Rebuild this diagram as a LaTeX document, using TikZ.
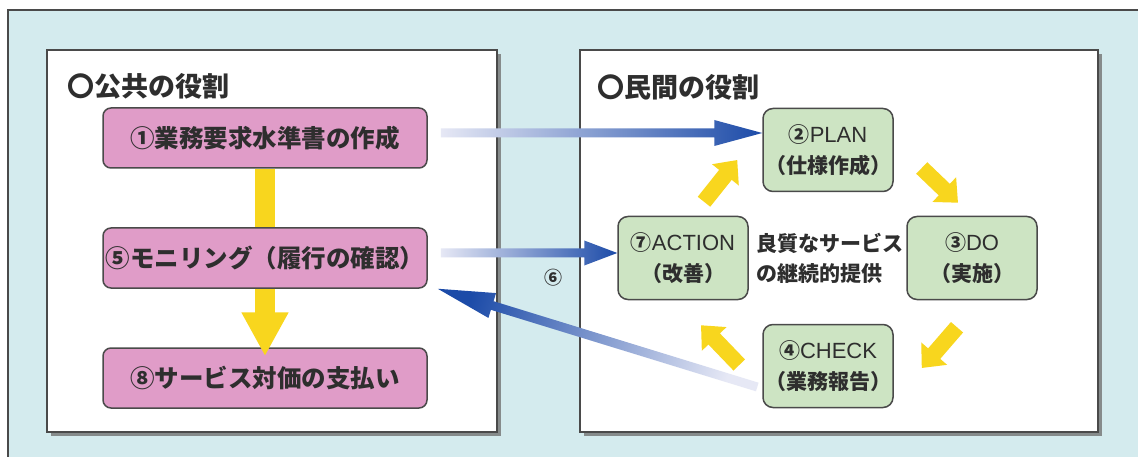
\documentclass[tikz,border=0pt]{standalone}
\usepackage{fontspec}
\setmainfont{Noto Sans CJK JP}
\newfontfamily\latinfont{Liberation Sans}
\usetikzlibrary{positioning,calc,arrows.meta,shadows}

\definecolor{panelblue}{HTML}{D4EBEE}
\definecolor{edgegray}{HTML}{4A4A4A}
\definecolor{textgray}{HTML}{2E2E2E}
\definecolor{rolepink}{HTML}{E09CC8}
\definecolor{cyclegreen}{HTML}{CDE4C3}
\definecolor{flowyellow}{HTML}{F8D61E}
\definecolor{linkblue}{HTML}{1C4BA8}
\definecolor{linkpale}{HTML}{E6E8F5}

\newcommand{\cyclename}[1]{{\latinfont\mdseries\fontsize{22}{31}\selectfont #1}}

\tikzset{
  panel/.style={draw=edgegray, line width=2pt, fill=white, inner sep=0pt,
    drop shadow={shadow xshift=4pt, shadow yshift=-4pt, fill=black!55, opacity=0.8}},
  paneltitle/.style={anchor=west, inner sep=0pt, text=textgray, font=\bfseries\fontsize{27}{30}\selectfont},
  rolebox/.style={draw=edgegray, line width=1.5pt, rounded corners=8pt, fill=rolepink,
    minimum width=324pt, minimum height=60pt, inner sep=0pt, text=textgray,
    font=\bfseries\fontsize{24.5}{28}\selectfont},
  cyclebox/.style={draw=edgegray, line width=1.5pt, rounded corners=10pt, fill=cyclegreen,
    minimum width=130pt, minimum height=83pt, inner sep=0pt, align=center, text=textgray,
    font=\bfseries\fontsize{21}{31}\selectfont},
  flowbar/.style={draw=flowyellow, line width=20pt},
  flowdown/.style={draw=flowyellow, line width=20pt, -{Triangle[length=44pt, width=44pt]}},
  cyclearrow/.style={draw=flowyellow, line width=16pt, -{Triangle[length=19pt, width=33pt]}}
}

% shaded block arrow: tail, tip, head length, head half width, shading angle
\newcommand{\linkarrow}[5]{%
  \coordinate (lahead) at ($(#2)!#3!(#1)$);
  \shade[left color=linkpale, right color=linkblue, shading angle=#5]
    ($(#1)!4.5pt!90:(#2)$) -- ($(lahead)!4.5pt!-90:(#1)$) -- ($(lahead)!#4!-90:(#1)$)
    -- (#2) -- ($(lahead)!#4!90:(#1)$) -- ($(lahead)!4.5pt!90:(#1)$)
    -- ($(#1)!4.5pt!-90:(#2)$) -- cycle;
}

\begin{document}
\begin{tikzpicture}[x=1pt, y=-1pt]
  \useasboundingbox (0,0) rectangle (1138,457);
  \fill[panelblue] (8,10) rectangle (1140,460);
  \draw[edgegray, line width=2pt] (8,460) -- (8,10) -- (1140,10);

  % public side
  \node[panel, minimum width=450pt, minimum height=382pt] (pub) at (272,241) {};
  \node[paneltitle] (pubtitle) at (67,86) {〇公共の役割};
  \node[rolebox] (req) at (265,138) {①業務要求水準書の作成};
  \node[rolebox] (mon) at (265,258) {⑤モニリング（履行の確認）};
  \node[rolebox] (pay) at (265,378) {⑧サービス対価の支払い};
  \draw[flowbar] (req.south) -- (mon.north);
  \draw[flowdown] (mon.south) -- ($(pay.north)+(0,9)$);

  % private side
  \node[panel, minimum width=518pt, minimum height=382pt] (priv) at (839,241) {};
  \node[paneltitle] (privtitle) at (597,87) {〇民間の役割};
  \node[cyclebox] (plan) at (828,150) {②\cyclename{PLAN}\\（仕様作成）};
  \node[cyclebox] (act) at (683,258) {⑦\cyclename{ACTION}\\（改善）};
  \node[cyclebox] (do) at (972,258) {③\cyclename{DO}\\（実施）};
  \node[cyclebox] (check) at (828,366) {④\cyclename{CHECK}\\（業務報告）};
  \node[anchor=west, align=left, inner sep=0pt, text=textgray,
    font=\bfseries\fontsize{21}{30}\selectfont] (goal) at (756,258) {良質なサービス\\の継続的提供};

  \draw[cyclearrow] ($(act.north)+(21,-14)$) -- ($(plan.west)+(-25,10)$);
  \draw[cyclearrow] ($(plan.east)+(28,18)$) -- ($(do.north)+(-14,-13)$);
  \draw[cyclearrow] ($(do.south)+(-15,27)$) -- ($(check.east)+(28,2)$);
  \draw[cyclearrow] ($(check.west)+(-23,-1)$) -- ($(act.south)+(18,25)$);

  % links between the two sides
  \coordinate (reqout) at ($(req.east)+(13,-5)$);
  \coordinate (planin) at (reqout -| plan.west);
  \coordinate (monout) at ($(mon.east)+(13,-5)$);
  \coordinate (actin) at (monout -| act.west);
  \coordinate (checkout) at ($(check.west)+(-5,21)$);
  \coordinate (monin) at ($(mon.south east)+(10,0)$);
  \linkarrow{reqout}{planin}{48pt}{13pt}{90}
  \linkarrow{monout}{actin}{33pt}{12.5pt}{90}
  \linkarrow{checkout}{monin}{57pt}{13pt}{252.9}
  \node[text=textgray, font=\bfseries\fontsize{18}{20}\selectfont] (sixth) at (553,278) {⑥};
\end{tikzpicture}
\end{document}
